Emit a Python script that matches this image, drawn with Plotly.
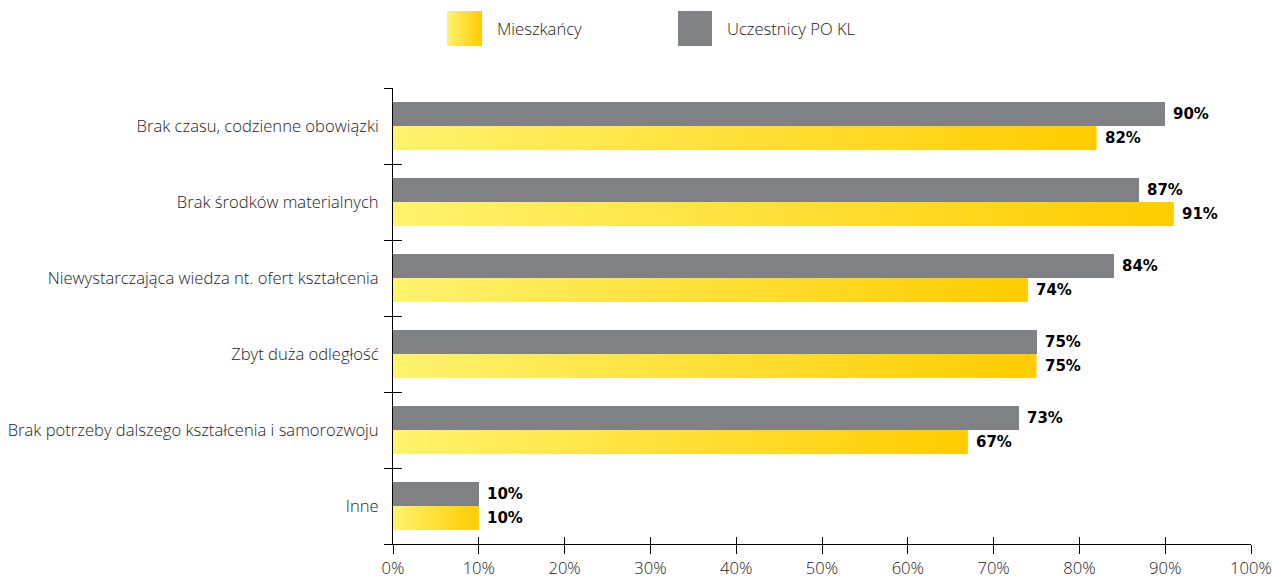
import base64
import plotly.graph_objects as go

# --- data -------------------------------------------------------------
categories = [
    "Brak czasu, codzienne obowiązki",
    "Brak środków materialnych",
    "Niewystarczająca wiedza nt. ofert kształcenia",
    "Zbyt duża odległość",
    "Brak potrzeby dalszego kształcenia i samorozwoju",
    "Inne",
]
residents = [82, 91, 74, 75, 67, 10]        # Mieszkańcy
participants = [90, 87, 84, 75, 73, 10]     # Uczestnicy PO KL
x_ticks = list(range(0, 101, 10))
series_names = ["Mieszkańcy", "Uczestnicy PO KL"]

# --- style ------------------------------------------------------------
GRAY = "#808184"
YELLOW_LIGHT = "#fff36e"
YELLOW_DARK = "#ffcc00"
TEXT = "#222222"
BAR_W = 0.316
LABEL_FONT = dict(family="Open Sans, sans-serif", size=16.6, color=TEXT, weight=300)
VALUE_FONT = dict(family="DejaVu Sans, Verdana, sans-serif", size=15, color="#000000", weight="bold")

pos = list(range(len(categories)))
bounds = [p - 0.5 for p in pos] + [pos[-1] + 0.5]
y_range = [pos[-1] + 0.5, -0.5]

fig = go.Figure()

# gray bars sit just above each category centre
fig.add_trace(go.Bar(
    orientation="h", y=pos, x=participants, width=BAR_W, offset=-BAR_W,
    marker=dict(color=GRAY, line=dict(width=0)),
    name=series_names[1], showlegend=False, hoverinfo="skip",
))

# yellow bars with a left-to-right gradient, each drawn as its own filled shape
for p, v in zip(pos, residents):
    fig.add_trace(go.Scatter(
        x=[0, v, v, 0, 0], y=[p, p, p + BAR_W, p + BAR_W, p],
        mode="lines", line=dict(width=0), fill="toself",
        fillgradient=dict(type="horizontal",
                          colorscale=[[0, YELLOW_LIGHT], [1, YELLOW_DARK]]),
        name=series_names[0], showlegend=False, hoverinfo="skip",
    ))

# value labels
for p, v in zip(pos, participants):
    fig.add_annotation(x=v, y=p - BAR_W / 2, text=f"{v}%", xanchor="left",
                       yanchor="middle", xshift=6, showarrow=False, font=VALUE_FONT)
for p, v in zip(pos, residents):
    fig.add_annotation(x=v, y=p + BAR_W / 2, text=f"{v}%", xanchor="left",
                       yanchor="middle", xshift=6, showarrow=False, font=VALUE_FONT)

# invisible trace so the overlay axes (inner half of the tick crosses) are drawn
fig.add_trace(go.Scatter(x=[0], y=[0], xaxis="x3", yaxis="y3", mode="markers",
                         marker=dict(opacity=0), showlegend=False, hoverinfo="skip"))

fig.update_layout(
    width=1272, height=580,
    margin=dict(l=393, r=21, t=88, b=36, autoexpand=False),
    paper_bgcolor="white", plot_bgcolor="white",
    bargap=0,
    xaxis=dict(
        range=[0, 100], tickmode="array", tickvals=x_ticks,
        ticktext=[f"{t}%" for t in x_ticks],
        showgrid=False, zeroline=False, automargin=False,
        showline=True, linecolor="#000000", linewidth=1,
        ticks="outside", ticklen=9, tickcolor="#000000", tickwidth=1,
        tickfont=LABEL_FONT, ticklabelstandoff=0,
    ),
    yaxis=dict(
        range=y_range, tickmode="array", tickvals=pos, ticktext=categories,
        showgrid=False, zeroline=False, automargin=False,
        showline=True, linecolor="#000000", linewidth=1,
        ticks="", tickfont=LABEL_FONT, ticklabelstandoff=10,
        minor=dict(tickmode="array", tickvals=bounds, ticks="outside",
                   ticklen=8, tickcolor="#000000", tickwidth=1, showgrid=False),
    ),
    xaxis3=dict(
        overlaying="x", anchor="y3", range=[0, 100], tickmode="array",
        tickvals=x_ticks, showticklabels=False, showgrid=False, zeroline=False,
        showline=False, ticks="inside", ticklen=7, tickcolor="#000000", tickwidth=1,
    ),
    yaxis3=dict(
        overlaying="y", anchor="x3", range=y_range, tickmode="array",
        tickvals=bounds, showticklabels=False, showgrid=False, zeroline=False,
        showline=False, ticks="inside", ticklen=9, tickcolor="#000000", tickwidth=1,
    ),
)

# --- legend (custom swatches above the plot) --------------------------
swatch_svg = (
    '<svg xmlns="http://www.w3.org/2000/svg" width="35" height="35">'
    '<defs><linearGradient id="g" x1="0" x2="1" y1="0" y2="0">'
    f'<stop offset="0" stop-color="{YELLOW_LIGHT}"/>'
    f'<stop offset="1" stop-color="{YELLOW_DARK}"/>'
    '</linearGradient></defs><rect width="35" height="35" fill="url(#g)"/></svg>'
)
fig.add_layout_image(
    source="data:image/svg+xml;base64," + base64.b64encode(swatch_svg.encode()).decode(),
    xref="paper", yref="paper", x=0.0629, y=1.1689, sizex=0.0408, sizey=0.0768,
    xanchor="left", yanchor="top", sizing="stretch", layer="above",
)
fig.add_shape(type="rect", xref="paper", yref="paper",
              x0=0.3322, x1=0.3718, y0=1.0921, y1=1.1689,
              fillcolor=GRAY, line=dict(width=0))
fig.add_annotation(x=0.1189, y=1.1294, xref="paper", yref="paper", text=series_names[0],
                   xanchor="left", yanchor="middle", showarrow=False, font=LABEL_FONT)
fig.add_annotation(x=0.3870, y=1.1294, xref="paper", yref="paper", text=series_names[1],
                   xanchor="left", yanchor="middle", showarrow=False, font=LABEL_FONT)

fig.write_html("out.html")
